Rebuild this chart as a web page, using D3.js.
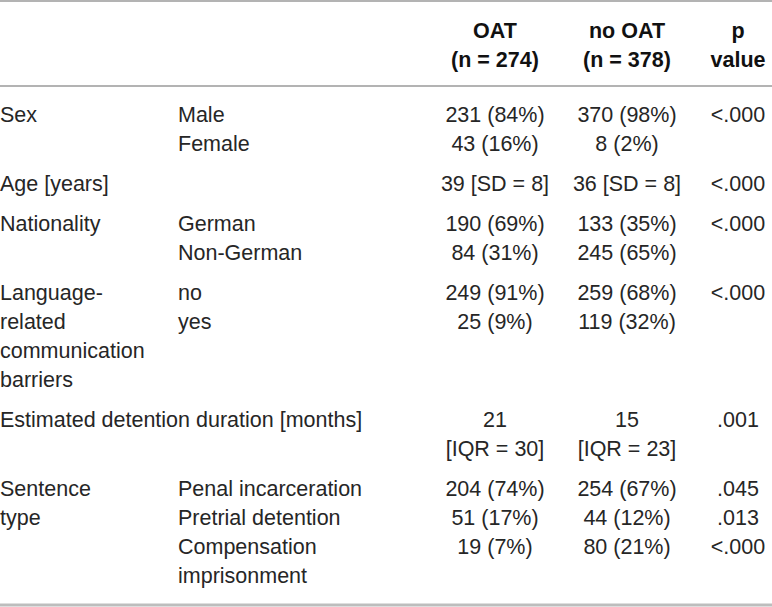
<!DOCTYPE html>
<html>
<head>
<meta charset="utf-8">
<script src="https://cdn.jsdelivr.net/npm/d3@7"></script>
<style>
  body { margin: 0; background: #fff; }
  svg text { font-family: "Liberation Sans", Arial, sans-serif; font-size: 21.5px; fill: #262626; }
  svg text.head { font-weight: bold; fill: #111; }
</style>
</head>
<body>
<script>
// header lines for the three value columns
const headOat = ["OAT", "(n = 274)"];
const headNoOat = ["no OAT", "(n = 378)"];
const headP = ["p", "value"];

// one entry per printed text line
const groupText = ["Sex", "", "Age [years]", "Nationality", "", "Language-", "related", "communication", "barriers",
  "Estimated detention duration [months]", "", "Sentence", "type", "", ""];
const subText = ["Male", "Female", "", "German", "Non-German", "no", "yes", "", "",
  "", "", "Penal incarceration", "Pretrial detention", "Compensation", "imprisonment"];
const oatText = ["231 (84%)", "43 (16%)", "39 [SD = 8]", "190 (69%)", "84 (31%)", "249 (91%)", "25 (9%)", "", "",
  "21", "[IQR = 30]", "204 (74%)", "51 (17%)", "19 (7%)", ""];
const noOatText = ["370 (98%)", "8 (2%)", "36 [SD = 8]", "133 (35%)", "245 (65%)", "259 (68%)", "119 (32%)", "", "",
  "15", "[IQR = 23]", "254 (67%)", "44 (12%)", "80 (21%)", ""];
const pText = ["<.000", "", "<.000", "<.000", "", "<.000", "", "", "",
  ".001", "", ".045", ".013", "<.000", ""];
const groupOf = [0, 0, 1, 2, 2, 3, 3, 3, 3, 4, 4, 5, 5, 5, 5];

const w = 772, h = 607;
const lineH = 29, groupGap = 11;

const svg = d3.select("body")
  .append("svg")
  .attr("width", w)
  .attr("height", h);

// baseline of each line: line index plus extra gap per group
const y = d3.scaleLinear()
  .domain([0, 1])
  .range([122, 122 + lineH]);
const lineY = (i) => y(i + groupOf[i] * groupGap / lineH);

const cols = [
  { data: groupText, x: 0, anchor: "start" },
  { data: subText, x: 178, anchor: "start" },
  { data: oatText, x: 495, anchor: "middle" },
  { data: noOatText, x: 627, anchor: "middle" },
  { data: pText, x: 738, anchor: "middle" }
];

// rules
const rules = [
  { y: 1, color: "#9a9a9a", width: 1.5 },
  { y: 86, color: "#9a9a9a", width: 1.5 },
  { y: 605, color: "#bdbdbd", width: 3 }
];
svg.selectAll("line.rule")
  .data(rules)
  .enter()
  .append("line")
  .attr("class", "rule")
  .attr("x1", 0)
  .attr("x2", w)
  .attr("y1", d => d.y)
  .attr("y2", d => d.y)
  .attr("stroke", d => d.color)
  .attr("stroke-width", d => d.width);

// header
const headY = d3.scaleLinear().domain([0, 1]).range([38, 38 + lineH]);
[[headOat, 495], [headNoOat, 627], [headP, 738]].forEach(([lines, x]) => {
  svg.append("g")
    .selectAll("text")
    .data(lines)
    .enter()
    .append("text")
    .attr("class", "head")
    .attr("x", x)
    .attr("y", (d, i) => headY(i))
    .attr("text-anchor", "middle")
    .text(d => d);
});

// body
cols.forEach(c => {
  svg.append("g")
    .selectAll("text")
    .data(c.data.map((t, i) => ({ t, i })).filter(d => d.t !== ""))
    .enter()
    .append("text")
    .attr("x", c.x)
    .attr("y", d => lineY(d.i))
    .attr("text-anchor", c.anchor)
    .text(d => d.t);
});
</script>
</body>
</html>
